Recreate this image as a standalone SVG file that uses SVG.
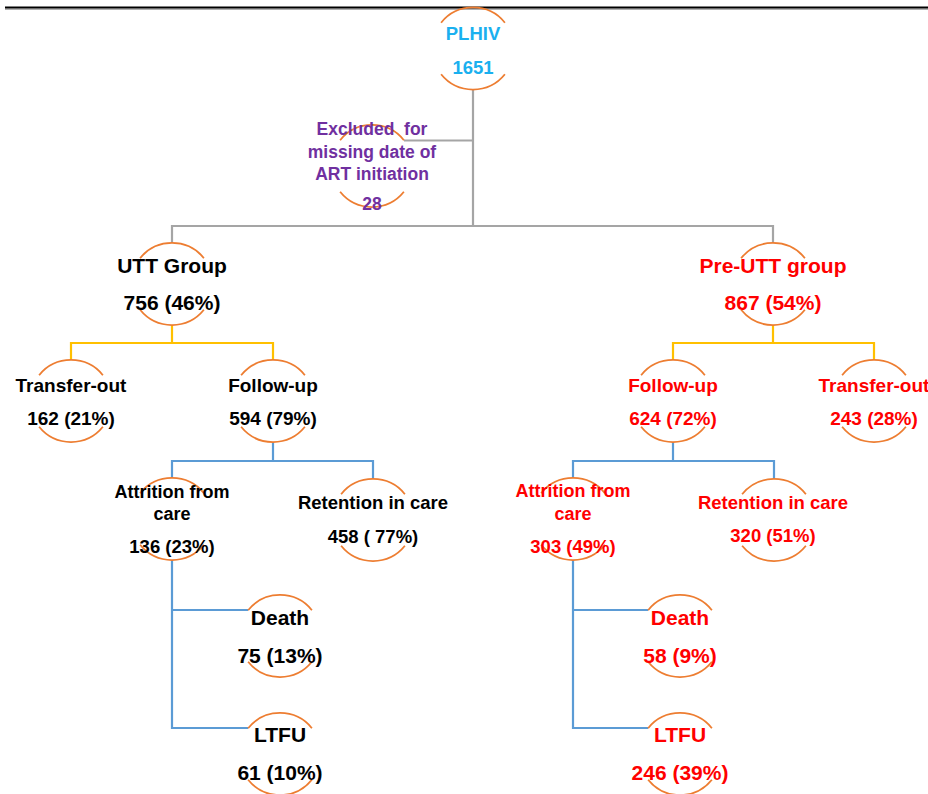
<svg xmlns="http://www.w3.org/2000/svg" width="928" height="794" viewBox="0 0 928 794">
<defs>
<style>
text{font-family:"Liberation Sans",Arial,sans-serif;font-weight:bold;text-anchor:middle}
.arc{fill:none;stroke:#ed7d31;stroke-width:1.8}
.gray{fill:none;stroke:#a5a5a5;stroke-width:2.2}
.yel{fill:none;stroke:#ffc000;stroke-width:2.2}
.blue{fill:none;stroke:#5b9bd5;stroke-width:2.2}
.blk{fill:#000}
.red{fill:#ff0000}
.blu{fill:#1ab0ef}
.pur{fill:#7030a0}
.s21{font-size:21px}
.s19{font-size:19px}
.s185{font-size:18.5px}
.s18{font-size:18px}
.s175{font-size:17.5px}
</style>
<g id="circ">
<path class="arc" d="M-31.9,-25.8 A41,41 0 0 1 31.9,-25.8 M-31.9,25.8 A41,41 0 0 0 31.9,25.8"/>
</g>
</defs>
<rect width="928" height="794" fill="#fff"/>
<line x1="5" y1="9.2" x2="928" y2="9.2" stroke="#b0b0b0" stroke-width="1.5"/>
<line x1="5" y1="7.5" x2="928" y2="7.5" stroke="#000" stroke-width="1.8"/>

<g id="connectors">
<path class="gray" d="M473 89.5V226M172 243V226H773V243M404 140.5H473"/>
<path class="yel" d="M172 325V343M71 360V343H273V360M773 325V343M673 360V343H874V360"/>
<path class="blue" d="M273 442V461M172 478V461H373V479M673 442V461M573 478V461H774V479"/>
<path class="blue" d="M172 560V728H248M172 610H248M573 560V728H648M573 610H648"/>
</g>

<g id="plhiv"><use href="#circ" x="473" y="48.5"/>
<text class="blu s185" x="473" y="39.5">PLHIV</text>
<text class="blu s185" x="473" y="73.5">1651</text></g>

<g id="excluded"><use href="#circ" x="372" y="166"/>
<text class="pur s175" x="372" y="135" xml:space="preserve">Excluded  for</text>
<text class="pur s175" x="372" y="157.5">missing date of</text>
<text class="pur s175" x="372" y="179.5">ART initiation</text>
<text class="pur s175" x="372" y="210">28</text></g>

<g id="utt"><use href="#circ" x="172" y="284"/>
<text class="blk s21" x="172" y="273">UTT Group</text>
<text class="blk s21" x="172" y="310">756 (46%)</text></g>

<g id="preutt"><use href="#circ" x="773" y="284"/>
<text class="red s21" x="773" y="273">Pre-UTT group</text>
<text class="red s21" x="773" y="310">867 (54%)</text></g>

<g id="utt-transfer"><use href="#circ" x="71" y="401"/>
<text class="blk s19" x="71" y="392">Transfer-out</text>
<text class="blk s19" x="71" y="425">162 (21%)</text></g>

<g id="utt-follow"><use href="#circ" x="273" y="401"/>
<text class="blk s19" x="273" y="392">Follow-up</text>
<text class="blk s19" x="273" y="425">594 (79%)</text></g>

<g id="pre-follow"><use href="#circ" x="673" y="401"/>
<text class="red s19" x="673" y="392">Follow-up</text>
<text class="red s19" x="673" y="425">624 (72%)</text></g>

<g id="pre-transfer"><use href="#circ" x="874" y="401"/>
<text class="red s19" x="874" y="392">Transfer-out</text>
<text class="red s19" x="874" y="425">243 (28%)</text></g>

<g id="utt-attrition"><use href="#circ" x="172" y="519"/>
<text class="blk s18" x="172" y="498">Attrition from</text>
<text class="blk s18" x="172" y="520">care</text>
<text class="blk s185" x="172" y="553">136 (23%)</text></g>

<g id="utt-retention"><use href="#circ" x="373" y="520"/>
<text class="blk s185" x="373" y="509">Retention in care</text>
<text class="blk s185" x="373" y="543" xml:space="preserve">458 ( 77%)</text></g>

<g id="pre-attrition"><use href="#circ" x="573" y="519"/>
<text class="red s18" x="573" y="497">Attrition from</text>
<text class="red s18" x="573" y="520">care</text>
<text class="red s185" x="573" y="553">303 (49%)</text></g>

<g id="pre-retention"><use href="#circ" x="774" y="520"/>
<text class="red s185" x="773" y="509">Retention in care</text>
<text class="red s185" x="773" y="542">320 (51%)</text></g>

<g id="utt-death"><use href="#circ" x="280" y="636"/>
<text class="blk s21" x="280" y="625">Death</text>
<text class="blk s21" x="280" y="663">75 (13%)</text></g>

<g id="utt-ltfu"><use href="#circ" x="280" y="754"/>
<text class="blk s21" x="280" y="742">LTFU</text>
<text class="blk s21" x="280" y="780">61 (10%)</text></g>

<g id="pre-death"><use href="#circ" x="680" y="636"/>
<text class="red s21" x="680" y="625">Death</text>
<text class="red s21" x="680" y="663">58 (9%)</text></g>

<g id="pre-ltfu"><use href="#circ" x="680" y="754"/>
<text class="red s21" x="680" y="742">LTFU</text>
<text class="red s21" x="680" y="780">246 (39%)</text></g>
</svg>
